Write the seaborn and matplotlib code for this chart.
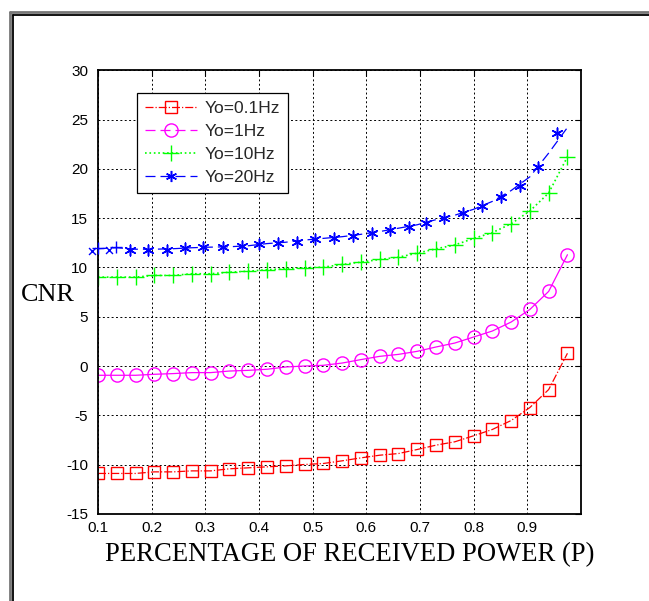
import numpy as np
import pandas as pd
import seaborn as sns
import matplotlib.pyplot as plt
from matplotlib.lines import Line2D

# x grid shared by the first three curves (and the blue line)
p_values = [0.100, 0.135, 0.170, 0.205, 0.240, 0.275, 0.310, 0.345, 0.380,
            0.415, 0.450, 0.485, 0.520, 0.555, 0.590, 0.625, 0.660, 0.695,
            0.730, 0.765, 0.800, 0.835, 0.870, 0.905, 0.940, 0.975]

cnr_01hz = [-10.90, -10.90, -10.90, -10.74, -10.74, -10.64, -10.64, -10.43,
            -10.33, -10.23, -10.13, -9.99, -9.89, -9.62, -9.32, -9.05, -8.88,
            -8.47, -8.03, -7.69, -7.08, -6.44, -5.53, -4.21, -2.39, 1.29]

cnr_1hz = [-0.94, -0.94, -0.94, -0.84, -0.77, -0.67, -0.67, -0.51, -0.44,
           -0.33, -0.10, 0.00, 0.07, 0.30, 0.65, 0.98, 1.18, 1.49, 1.93,
           2.33, 2.94, 3.55, 4.46, 5.74, 7.57, 11.29]

cnr_10hz = [9.02, 9.02, 9.02, 9.19, 9.19, 9.36, 9.36, 9.52, 9.62, 9.77,
            9.87, 9.97, 10.03, 10.30, 10.54, 10.81, 11.04, 11.45, 11.89,
            12.28, 12.94, 13.53, 14.43, 15.73, 17.55, 21.23]

cnr_20hz_line = [11.90, 12.00, 11.85, 11.85, 11.90, 12.00, 12.06, 12.10,
                 12.20, 12.42, 12.56, 12.78, 12.95, 13.12, 13.36, 13.64,
                 13.98, 14.33, 14.85, 15.30, 15.90, 16.70, 17.80, 19.20,
                 21.60, 24.20]

# the star markers of the 20 Hz curve sit on their own x positions
p_20hz_marks = [0.159, 0.194, 0.228, 0.262, 0.296, 0.333, 0.368, 0.401,
                0.435, 0.471, 0.505, 0.539, 0.575, 0.610, 0.644, 0.680,
                0.711, 0.745, 0.780, 0.815, 0.851, 0.886, 0.921, 0.955]
cnr_20hz_marks = [11.82, 11.82, 11.82, 11.96, 12.06, 12.06, 12.16, 12.40,
                  12.46, 12.63, 12.91, 13.01, 13.24, 13.48, 13.82, 14.15,
                  14.53, 15.00, 15.50, 16.21, 17.12, 18.24, 20.23, 23.68]

# stray blue markers near the start of the 20 Hz curve
p_20hz_x = [0.088, 0.120]
cnr_20hz_x = [11.70, 11.72]
p_20hz_plus = [0.100, 0.134]
cnr_20hz_plus = [12.00, 12.06]

labels = ['Yo=0.1Hz', 'Yo=1Hz', 'Yo=10Hz', 'Yo=20Hz']
colors = ['#ff0000', '#ff00ff', '#00ff00', '#0000ff']

x_ticks = [0.1, 0.2, 0.3, 0.4, 0.5, 0.6, 0.7, 0.8, 0.9]
y_ticks = [-15, -10, -5, 0, 5, 10, 15, 20, 25, 30]

STAR = (6, 2, 0)


def main():
    sns.set_theme(style="white")
    plt.rcParams['font.family'] = ['Liberation Sans', 'DejaVu Sans']

    fig = plt.figure(figsize=(6.49, 6.01), dpi=100)
    ax = fig.add_axes([0.151, 0.145, 0.744, 0.738])

    df = pd.DataFrame({'P': p_values, 'a': cnr_01hz, 'b': cnr_1hz,
                       'c': cnr_10hz, 'd': cnr_20hz_line})

    sns.lineplot(data=df, x='P', y='a', ax=ax, color=colors[0], linestyle='-.',
                 lw=0.9, marker='s', markersize=8.5, markerfacecolor='none',
                 markeredgecolor=colors[0], markeredgewidth=1.0)
    sns.lineplot(data=df, x='P', y='b', ax=ax, color=colors[1], linestyle='-',
                 lw=0.9, marker='o', markersize=9.5, markerfacecolor='none',
                 markeredgecolor=colors[1], markeredgewidth=1.0)
    sns.lineplot(data=df, x='P', y='c', ax=ax, color=colors[2], linestyle=':',
                 lw=1.2, marker='+', markersize=11,
                 markeredgecolor=colors[2], markeredgewidth=1.0)
    sns.lineplot(data=df, x='P', y='d', ax=ax, color=colors[3],
                 linestyle=(0, (8, 4)), lw=0.9)
    sns.scatterplot(x=p_20hz_marks, y=cnr_20hz_marks, ax=ax, marker=STAR,
                    s=60, color=colors[3], edgecolor=colors[3], linewidth=1.1,
                    zorder=3)
    sns.scatterplot(x=p_20hz_x, y=cnr_20hz_x, ax=ax, marker='x', s=25,
                    color=colors[3], linewidth=1.0, clip_on=False, zorder=3)
    sns.scatterplot(x=p_20hz_plus, y=cnr_20hz_plus, ax=ax, marker='+', s=80,
                    color=colors[3], linewidth=1.0, clip_on=False, zorder=3)

    ax.set_xlim(0.1, 1.0)
    ax.set_ylim(-15, 30)
    ax.set_xticks(x_ticks)
    ax.set_xticklabels([str(t) for t in x_ticks])
    ax.set_yticks(y_ticks)
    ax.set_yticklabels([str(t) for t in y_ticks])
    ax.tick_params(direction='in', length=4, width=0.8, labelsize=11,
                   colors='black', top=True, right=True, pad=5)
    ax.tick_params(axis='y', pad=7)
    ax.grid(True, color='black', linestyle=(0, (2, 2.5)), linewidth=0.7)
    for s in ax.spines.values():
        s.set_color('black')
        s.set_linewidth(1.3)

    ax.set_xlabel('PERCENTAGE OF RECEIVED POWER (P)',
                  family=['Liberation Serif'], fontsize=19.2, color='black')
    ax.xaxis.set_label_coords(0.522, -0.092)
    ax.xaxis.label.set_va('center')
    ax.set_ylabel('CNR', family=['Liberation Serif'], fontsize=18.8,
                  rotation=0, color='black')
    ax.yaxis.set_label_coords(-0.103, 0.493)
    ax.yaxis.label.set_va('center')
    ax.yaxis.label.set_ha('center')

    handles = [
        Line2D([], [], color=colors[0], linestyle='-.', lw=0.9, marker='s',
               markersize=8.5, markerfacecolor='none'),
        Line2D([], [], color=colors[1], linestyle=(0, (8, 4)), lw=0.9,
               marker='o', markersize=9.5, markerfacecolor='none'),
        Line2D([], [], color=colors[2], linestyle=':', lw=1.2, marker='+',
               markersize=11),
        Line2D([], [], color=colors[3], linestyle=(0, (8, 4)), lw=0.9,
               marker=STAR, markersize=8, markeredgewidth=1.1),
    ]
    leg = ax.legend(handles, labels, loc='upper left',
                    bbox_to_anchor=(0.081, 0.948), borderaxespad=0,
                    fontsize=12.5, frameon=True, fancybox=False, framealpha=1,
                    edgecolor='black', handlelength=3.0, borderpad=0.45,
                    labelspacing=0.45, handletextpad=0.45)
    leg.get_frame().set_linewidth(0.9)

    # double frame lines on the left and top of the figure
    fig.add_artist(Line2D([10, 649], [589, 589], transform=None,
                          color='#777777', lw=2.0))
    fig.add_artist(Line2D([13, 649], [586, 586], transform=None,
                          color='black', lw=1.3))
    fig.add_artist(Line2D([10, 10], [0, 589], transform=None,
                          color='#777777', lw=2.0))
    fig.add_artist(Line2D([13, 13], [0, 586], transform=None,
                          color='black', lw=1.3))

    plt.savefig('out.png', dpi=100, facecolor='white')


if __name__ == "__main__":
    main()
